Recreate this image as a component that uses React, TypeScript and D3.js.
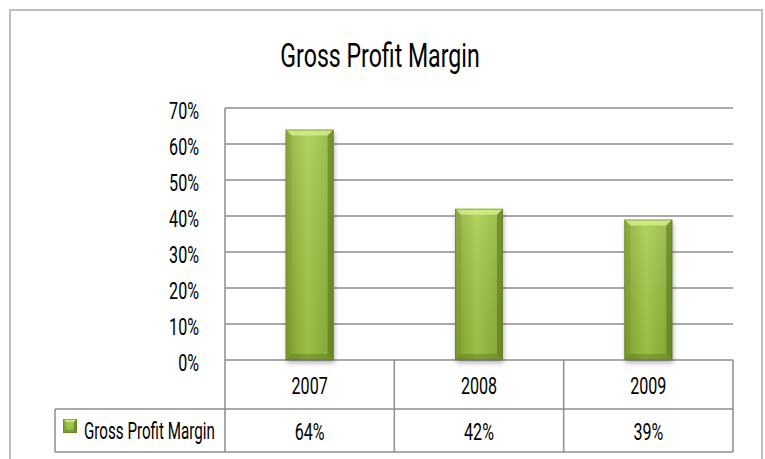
import React, { useRef, useEffect } from "react";
import * as d3 from "d3";

const title = "Gross Profit Margin";
const years = ["2007", "2008", "2009"];
const margins = [0.64, 0.42, 0.39];
const tickValues = [0, 0.1, 0.2, 0.3, 0.4, 0.5, 0.6, 0.7];

const FONT = "Roboto, 'DejaVu Sans', sans-serif";
const SQUEEZE = 0.7; // narrow the glyphs, the original uses a condensed face

const App = () => {
  const wrapper = useRef<SVGSVGElement | null>(null);
  const width = 765;
  const height = 459;

  useEffect(() => {
    const svg = d3.select(wrapper.current);
    svg.selectAll("*").remove();

    const left = 225;
    const right = 733;
    const top = 108;
    const bottom = 360;
    const row1 = 409;
    const row2 = 452;
    const legendLeft = 55;

    const x = d3
      .scaleBand()
      .domain(years)
      .range([left, right])
      .paddingInner(0.717)
      .paddingOuter(0.3585);
    const y = d3.scaleLinear().domain([0, 0.7]).range([bottom, top]);
    const step = x.step();

    // condensed text: place at (tx, ty), squeeze horizontally
    const label = (g: any, tx: number, ty: number, str: string, size: number, anchor: string, sx = SQUEEZE) =>
      g.append("text")
        .attr("transform", `translate(${tx},${ty}) scale(${sx},1)`)
        .attr("text-anchor", anchor)
        .attr("font-family", FONT)
        .attr("font-size", size)
        .attr("fill", "#000")
        .text(str);

    const defs = svg.append("defs");
    const hg = defs
      .append("linearGradient")
      .attr("id", "barH")
      .attr("x1", "0")
      .attr("x2", "1")
      .attr("y1", "0")
      .attr("y2", "0");
    hg.append("stop").attr("offset", "0").attr("stop-color", "#86a832");
    hg.append("stop").attr("offset", "0.45").attr("stop-color", "#a6ce4a");
    hg.append("stop").attr("offset", "1").attr("stop-color", "#8cb038");
    const vg = defs
      .append("linearGradient")
      .attr("id", "barV")
      .attr("x1", "0")
      .attr("x2", "0")
      .attr("y1", "0")
      .attr("y2", "1");
    vg.append("stop").attr("offset", "0").attr("stop-color", "#ffffff").attr("stop-opacity", 0.12);
    vg.append("stop").attr("offset", "1").attr("stop-color", "#000000").attr("stop-opacity", 0.08);
    const blur = defs.append("filter").attr("id", "shadow").attr("x", "-20%").attr("y", "-20%").attr("width", "140%").attr("height", "140%");
    blur.append("feGaussianBlur").attr("stdDeviation", 2.5);

    // outer chart border
    svg
      .append("rect")
      .attr("x", 10)
      .attr("y", 10)
      .attr("width", 752)
      .attr("height", 470)
      .attr("fill", "white")
      .attr("stroke", "#bfbfbf")
      .attr("stroke-width", 2);

    // title
    label(svg, 380, 67, title, 34, "middle", 0.68);

    // gridlines
    svg
      .append("g")
      .selectAll("line")
      .data(tickValues)
      .enter()
      .append("line")
      .attr("x1", left)
      .attr("x2", right)
      .attr("y1", (d) => y(d))
      .attr("y2", (d) => y(d))
      .attr("stroke", "#8c8c8c")
      .attr("stroke-width", 1.5);

    // y tick labels
    const ticks = svg.append("g");
    tickValues.forEach((d) => label(ticks, 199, y(d) + 11, d3.format(".0%")(d), 23, "end"));

    // bars
    const drawBar = (g: any, bx: number, by: number, bw: number, bh: number, b: number) => {
      g.append("rect")
        .attr("x", bx)
        .attr("y", by)
        .attr("width", bw)
        .attr("height", bh)
        .attr("fill", "url(#barH)");
      g.append("rect")
        .attr("x", bx)
        .attr("y", by)
        .attr("width", bw)
        .attr("height", bh)
        .attr("fill", "url(#barV)");
      const poly = (pts: number[][], fill: string, op: number) =>
        g.append("polygon")
          .attr("points", pts.map((p) => p.join(",")).join(" "))
          .attr("fill", fill)
          .attr("opacity", op);
      // top bevel
      poly([[bx, by], [bx + bw, by], [bx + bw - b, by + b], [bx + b, by + b]], "#d2ee88", 0.85);
      // left bevel
      poly([[bx, by], [bx + b, by + b], [bx + b, by + bh - b], [bx, by + bh]], "#6f8f22", 0.28);
      // right bevel
      poly([[bx + bw, by], [bx + bw, by + bh], [bx + bw - b, by + bh - b], [bx + bw - b, by + b]], "#4f6a12", 0.5);
      // bottom bevel
      poly([[bx, by + bh], [bx + bw, by + bh], [bx + bw - b, by + bh - b], [bx + b, by + bh - b]], "#56731a", 0.4);
      g.append("rect")
        .attr("x", bx + 0.5)
        .attr("y", by + 0.5)
        .attr("width", bw - 1)
        .attr("height", bh - 1)
        .attr("fill", "none")
        .attr("stroke", "#5d7a1c")
        .attr("stroke-opacity", 0.5);
    };

    const bars = svg.append("g");
    years.forEach((yr, i) => {
      const bx = x(yr) as number;
      const by = y(margins[i]);
      const bw = x.bandwidth();
      const bh = bottom - by;
      bars
        .append("rect")
        .attr("x", bx + 1)
        .attr("y", by + 3)
        .attr("width", bw)
        .attr("height", bh)
        .attr("fill", "#000")
        .attr("opacity", 0.3)
        .attr("filter", "url(#shadow)");
      drawBar(bars.append("g"), bx, by, bw, bh, 6);
    });

    // data table
    const table = svg.append("g").attr("stroke", "#8c8c8c").attr("stroke-width", 1.5);
    table.append("line").attr("x1", left).attr("x2", left).attr("y1", top).attr("y2", row2);
    years.forEach((yr) => {
      const cx = (x(yr) as number) + x.bandwidth() / 2 + step / 2;
      table.append("line").attr("x1", cx).attr("x2", cx).attr("y1", bottom).attr("y2", row2);
    });
    table.append("line").attr("x1", legendLeft).attr("x2", right).attr("y1", row1).attr("y2", row1);
    table.append("line").attr("x1", legendLeft).attr("x2", right).attr("y1", row2).attr("y2", row2);
    table.append("line").attr("x1", legendLeft).attr("x2", legendLeft).attr("y1", row1).attr("y2", row2);

    const cells = svg.append("g");
    years.forEach((yr, i) => {
      const cx = (x(yr) as number) + x.bandwidth() / 2;
      label(cells, cx, 394, yr, 23, "middle");
      label(cells, cx, 440, d3.format(".0%")(margins[i]), 23, "middle");
    });

    // legend key
    drawBar(svg.append("g"), 63, 419, 14, 14, 3);
    label(svg, 84, 439, title, 23, "start", 0.66);
  }, []);

  return (
    <svg
      ref={wrapper}
      width={width}
      height={height}
      style={{ position: "absolute", left: 0, top: 0, background: "white" }}
    />
  );
};

export default App;
